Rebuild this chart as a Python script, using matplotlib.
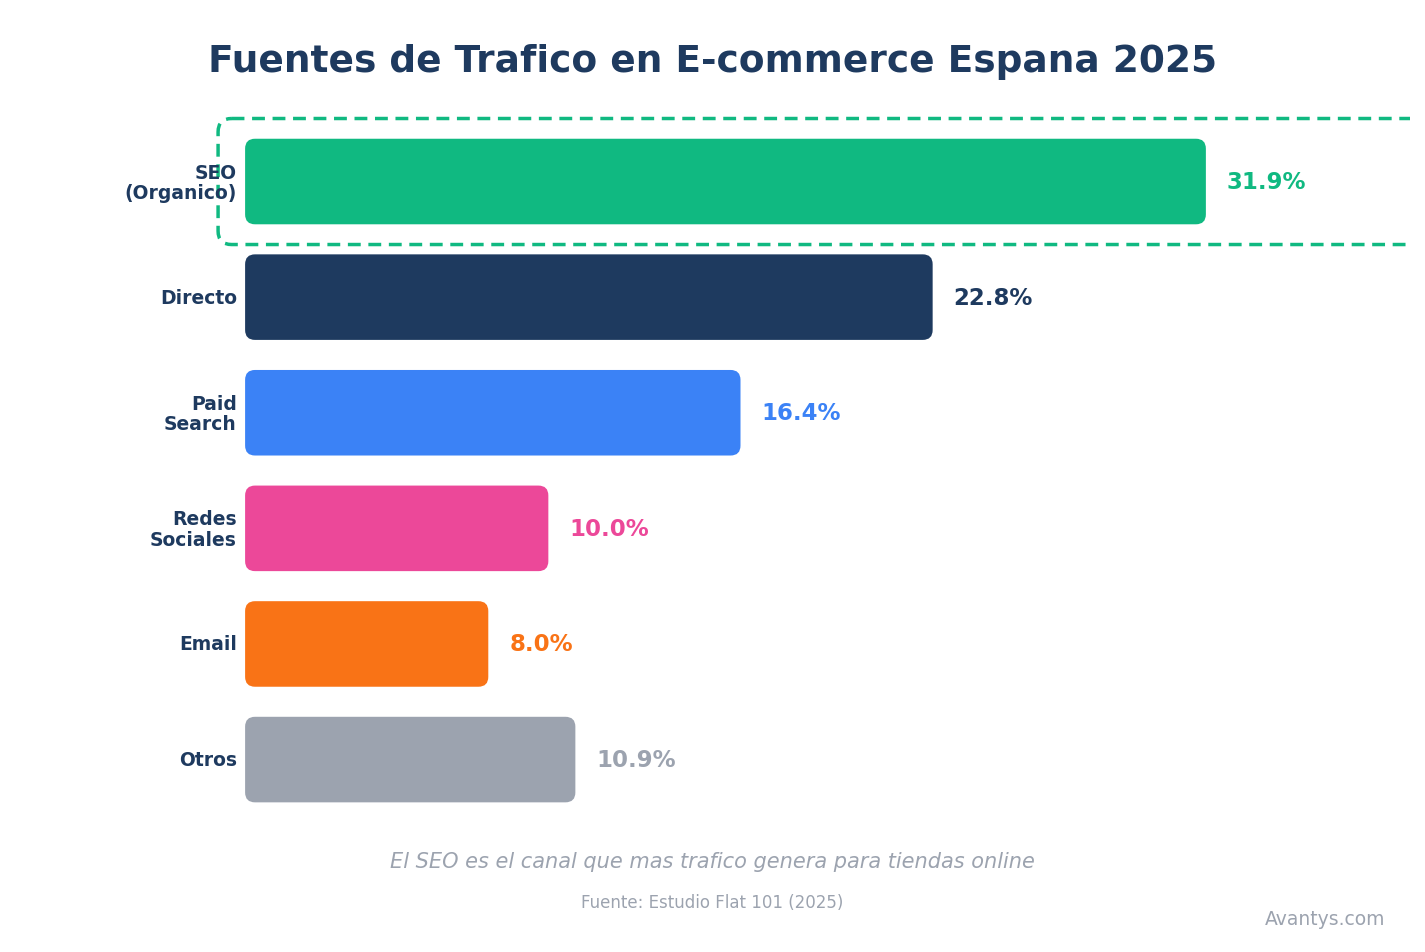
import matplotlib.pyplot as plt
from matplotlib.patches import FancyBboxPatch
from matplotlib.transforms import Bbox, TransformedBbox, ScaledTranslation

# Datos
canales = ['SEO\n(Organico)', 'Directo', 'Paid\nSearch', 'Redes\nSociales', 'Email', 'Otros']
valores = [31.9, 22.8, 16.4, 10.0, 8.0, 10.9]
colores = ['#10b981', '#1e3a5f', '#3b82f6', '#ec4899', '#f97316', '#9ca3af']

titulo = 'Fuentes de Trafico en E-commerce Espana 2025'
subtitulo = 'El SEO es el canal que mas trafico genera para tiendas online'
fuente = 'Fuente: Estudio Flat 101 (2025)'
marca = 'Avantys.com'

fig = plt.figure(figsize=(14.25, 9.53), dpi=100)
ax = fig.add_axes([0.172, 0.1170, 0.8175, 0.7764])

xmax = 38.8
ax.set_xlim(0, xmax)
ax.set_ylim(5.7, -0.7)

# relacion de aspecto para esquinas redondeadas
bbox = ax.get_position()
px_x = bbox.width * fig.get_figwidth() * fig.dpi / xmax
px_y = bbox.height * fig.get_figheight() * fig.dpi / 6.4
aspect = px_x / px_y

bars = ax.barh(range(len(valores)), valores, height=0.74, color='none')
for bar, col, v in zip(bars, colores, valores):
    x0, y0 = bar.get_x(), bar.get_y()
    w, h = bar.get_width(), bar.get_height()
    p = FancyBboxPatch((x0, y0), w + 0.1, h,
                       boxstyle='round,pad=0,rounding_size=0.33',
                       mutation_aspect=aspect, facecolor=col, edgecolor='none')
    ax.add_patch(p)
    ax.text(v + 0.8, y0 + h / 2, f'{v:.1f}%', va='center', ha='left',
            fontsize=16.5, fontweight='bold', color=col)

# recuadro destacado para SEO
caja = FancyBboxPatch((-0.9, -0.545), 45, 1.09,
                      boxstyle='round,pad=0,rounding_size=0.45',
                      mutation_aspect=aspect, facecolor='none', edgecolor='#10b981',
                      linewidth=2.5, linestyle=(0, (3.7, 2.2)))
ax.add_patch(caja)
caja.set_clip_box(TransformedBbox(Bbox([[0, 0], [1410 / 1425, 1]]), fig.transFigure))

ax.set_yticks(range(len(canales)))
ax.set_yticklabels(canales, fontsize=13.5, fontweight='bold', color='#1e3a5f',
                   linespacing=1.1)
ax.tick_params(axis='y', length=0, pad=6)
subir = ScaledTranslation(0, 2 / 100, fig.dpi_scale_trans)
for lbl in ax.get_yticklabels():
    lbl.set_transform(lbl.get_transform() + subir)
ax.set_xticks([])
for s in ax.spines.values():
    s.set_visible(False)

fig.text(0.5, 0.935, titulo, ha='center', va='center', fontsize=27,
         fontweight='bold', color='#1e3a5f')
fig.text(0.5, 1 - 862 / 953, subtitulo, ha='center', va='center', fontsize=15,
         style='italic', color='#9ca3af')
fig.text(0.5, 1 - 903 / 953, fuente, ha='center', va='center', fontsize=12,
         color='#9ca3af')
fig.text(1385 / 1425, 1 - 920 / 953, marca, ha='right', va='center', fontsize=13.5,
         color='#9ca3af')

fig.savefig('out.png', dpi=100, facecolor='white')
